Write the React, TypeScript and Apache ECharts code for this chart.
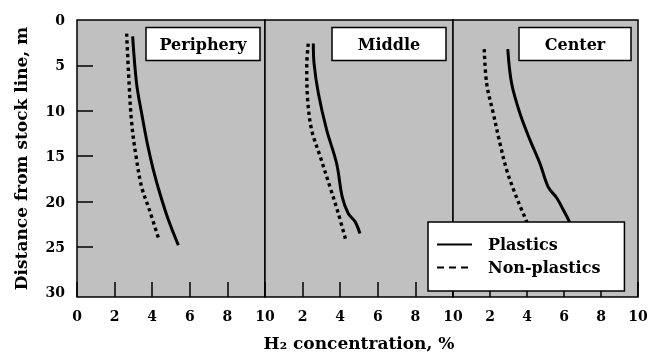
import React, { useEffect, useRef } from 'react';
import * as echarts from 'echarts';

const panelNames = ['Periphery', 'Middle', 'Center'];
const seriesNames = ['Plastics', 'Non-plastics'];
const xAxisTitle = 'H₂ concentration, %';
const yAxisTitle = 'Distance from stock line, m';
const depthLabels = [0, 5, 10, 15, 20, 25, 30];
const depthTicks = [5, 10, 15, 20, 25];

// [H2 concentration %, distance from stock line m]
const peripheryPlastics = [[2.96, 1.8], [3.17, 7.0], [3.44, 10.3], [3.74, 13.6], [4.06, 16.5], [4.41, 19.1], [4.86, 22.0], [5.39, 24.8]];
const peripheryNonPlastics = [[2.64, 1.5], [2.77, 7.0], [2.91, 11.4], [3.14, 15.0], [3.44, 18.4], [3.85, 20.9], [4.36, 24.2]];
const middlePlastics = [[2.57, 2.6], [2.61, 4.8], [2.84, 8.1], [3.28, 12.1], [3.81, 15.8], [4.11, 19.5], [4.43, 21.3], [4.79, 22.2], [5.05, 23.5]];
const middleNonPlastics = [[2.3, 2.6], [2.22, 5.1], [2.27, 8.8], [2.48, 12.1], [2.93, 15.0], [3.46, 18.4], [3.9, 21.3], [4.29, 24.2]];
const centerPlastics = [[2.96, 3.2], [3.17, 7.0], [3.62, 10.3], [4.16, 13.2], [4.7, 15.8], [5.15, 18.4], [5.61, 19.6], [5.96, 20.9], [6.29, 22.2], [6.6, 23.8]];
const centerNonPlastics = [[1.69, 3.2], [1.82, 7.0], [2.18, 10.3], [2.54, 13.6], [2.9, 16.5], [3.35, 19.1], [3.71, 20.9], [3.98, 22.2], [4.2, 23.5]];

const panelData = [
  [peripheryPlastics, peripheryNonPlastics],
  [middlePlastics, middleNonPlastics],
  [centerPlastics, centerNonPlastics],
];

const FONT = 'DejaVu Serif';

export default function App() {
  const ref = useRef<HTMLDivElement>(null);
  useEffect(() => {
    const chart = echarts.init(ref.current!, null, { renderer: 'svg' });
    const grids = [
      { left: 77, top: 20, width: 188, height: 277 },
      { left: 265, top: 20, width: 188, height: 277 },
      { left: 453, top: 20, width: 185, height: 277 },
    ].map((g) => ({
      ...g,
      show: true,
      outerBoundsMode: 'none',
      containLabel: false,
      backgroundColor: '#c0c0c0',
      borderColor: '#000',
      borderWidth: 1.5,
    }));

    const xAxes = grids.map((_, i) => ({
      type: 'value',
      gridIndex: i,
      position: 'bottom',
      min: 0,
      max: 10,
      interval: 2,
      name: i === 1 ? xAxisTitle : '',
      nameLocation: 'middle',
      nameGap: 37,
      nameTextStyle: { fontFamily: FONT, fontWeight: 'bold', fontSize: 17, color: '#000' },
      axisLine: { show: false, onZero: false },
      axisTick: { show: true, inside: true, length: 15, lineStyle: { color: '#000', width: 1.5 } },
      splitLine: { show: false },
      axisLabel: {
        showMinLabel: i === 0,
        margin: 12,
        fontFamily: FONT,
        fontWeight: 'bold',
        fontSize: 14,
        color: '#000',
      },
    }));

    const yAxes = grids.map((_, i) => ({
      type: 'value',
      gridIndex: i,
      position: 'left',
      min: 0,
      max: 30.5,
      interval: 5,
      inverse: true,
      show: i === 0,
      name: i === 0 ? yAxisTitle : '',
      nameLocation: 'middle',
      nameGap: 48,
      nameTextStyle: { fontFamily: FONT, fontWeight: 'bold', fontSize: 17, color: '#000' },
      axisLine: { show: false, onZero: false },
      axisTick: { show: true, inside: true, length: 16, customValues: depthTicks, lineStyle: { color: '#000', width: 1.5 } },
      splitLine: { show: false },
      axisLabel: {
        customValues: depthLabels,
        margin: 12,
        fontFamily: FONT,
        fontWeight: 'bold',
        fontSize: 14,
        color: '#000',
        formatter: (v: number) => (v % 5 === 0 ? String(v) : ''),
      },
    }));

    const series: any[] = [];
    panelData.forEach((pair, i) => {
      pair.forEach((data, j) => {
        series.push({
          type: 'line',
          name: seriesNames[j],
          xAxisIndex: i,
          yAxisIndex: i,
          data,
          smooth: 0.35,
          symbol: 'none',
          itemStyle: { color: '#000' },
          lineStyle: j === 0
            ? { color: '#000', width: 3 }
            : { color: '#000', width: 3.4, type: [3.4, 3.4], cap: 'butt' },
        });
      });
    });

    const boxX = [146, 332, 519];
    const boxW = [114, 114, 112];
    const graphic: any[] = [];
    panelNames.forEach((name, i) => {
      graphic.push({
        type: 'rect',
        shape: { x: boxX[i], y: 27.5, width: boxW[i], height: 33 },
        style: { fill: '#fff', stroke: '#000', lineWidth: 1.5 },
        z: 10,
      });
      graphic.push({
        type: 'text',
        x: boxX[i] + boxW[i] / 2,
        y: 44,
        style: {
          text: name,
          fontFamily: FONT,
          fontWeight: 'bold',
          fontSize: 16,
          fill: '#000',
          align: 'center',
          verticalAlign: 'middle',
        },
        z: 11,
      });
    });

    chart.setOption({
      animation: false,
      grid: grids,
      xAxis: xAxes,
      yAxis: yAxes,
      series,
      graphic,
      legend: {
        orient: 'vertical',
        left: 428,
        top: 222,
        padding: [13, 24, 14, 8],
        itemGap: 4,
        itemWidth: 35,
        itemHeight: 14,
        backgroundColor: '#fff',
        borderColor: '#000',
        borderWidth: 1.5,
        borderRadius: 0,
        z: 20,
        itemStyle: { opacity: 0 },
        textStyle: {
          fontFamily: FONT,
          fontWeight: 'bold',
          fontSize: 16,
          color: '#000',
          lineHeight: 19,
          padding: [0, 0, 0, 11],
        },
        data: [
          { name: seriesNames[0], itemStyle: { opacity: 0 }, lineStyle: { color: '#000', width: 2, type: 'solid' } },
          { name: seriesNames[1], itemStyle: { opacity: 0 }, lineStyle: { color: '#000', width: 2, type: [7, 5] } },
        ],
      },
    });
    return () => chart.dispose();
  }, []);
  return <div ref={ref} style={{ position: 'fixed', left: 0, top: 0, width: 651, height: 352 }} />;
}
